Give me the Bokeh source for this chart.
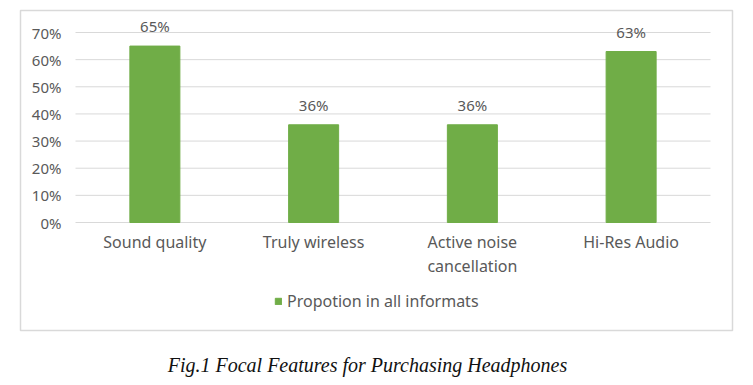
import numpy as np
from bokeh.plotting import figure
from bokeh.models import (ColumnDataSource, LabelSet, NumeralTickFormatter, FixedTicker,
                          Legend, LegendItem, Range1d, Div)
from bokeh.layouts import column
from bokeh.core.properties import value
from bokeh.embed import file_html
from bokeh.resources import INLINE

categories = ["Sound quality", "Truly wireless", "Active noise\ncancellation", "Hi-Res Audio"]
values = [0.65, 0.36, 0.36, 0.63]
value_labels = ["65%", "36%", "36%", "63%"]
series_name = "Propotion in all informats"
y_ticks = [0, 0.1, 0.2, 0.3, 0.4, 0.5, 0.6, 0.7]
caption = "Fig.1 Focal Features for Purchasing Headphones"

GREEN = "#70AD47"
GRID = "#d9d9d9"
TXT = "#595959"
FONT = "Noto Sans"

# layout geometry (pixels)
FL, FT, FR, FB = 20, 10, 732, 330       # bordered frame
PL, PT, PR, PB = 75, 32, 710, 222       # plotting area inside it
W, H = 745, 345

n = len(categories)
xs = np.arange(n) + 0.5
ppx = (PR - PL) / n
ppy = (PB - PT) / y_ticks[-1]

p = figure(width=W, height=H, output_backend="svg", toolbar_location=None,
           min_border_left=FL, min_border_right=W - FR, min_border_top=FT,
           min_border_bottom=H - FB)
p.x_range = Range1d(-(PL - FL) / ppx, n + (FR - PR) / ppx)
p.y_range = Range1d(-(FB - PB) / ppy, y_ticks[-1] + (PT - FT) / ppy)
p.outline_line_color = GRID
p.outline_line_width = 1.5
p.xgrid.grid_line_color = None
p.ygrid.grid_line_color = None

# gridlines over the plotting area only
p.segment(x0=0, x1=n, y0=y_ticks, y1=y_ticks, line_color=GRID, line_width=1)

src = ColumnDataSource(dict(x=xs, val=values, lab=value_labels))
r = p.vbar(x="x", top="val", width=0.315, source=src, fill_color=GREEN, line_color=GREEN)

p.add_layout(LabelSet(x="x", y="val", text="lab", source=src, y_offset=20,
                      text_align="center", text_baseline="middle", text_font_size="15px",
                      text_color=TXT, text_font=value(FONT)))

p.yaxis.fixed_location = 0
p.yaxis.ticker = FixedTicker(ticks=y_ticks)
p.yaxis.formatter = NumeralTickFormatter(format="0%")
p.yaxis.axis_line_color = None
p.yaxis.major_tick_line_color = None
p.yaxis.major_tick_out = 0
p.yaxis.minor_tick_line_color = None
p.yaxis.major_label_text_font_size = "15px"
p.yaxis.major_label_text_color = TXT
p.yaxis.major_label_text_font = FONT
p.yaxis.major_label_standoff = 14

p.xaxis.fixed_location = 0
p.xaxis.ticker = FixedTicker(ticks=list(xs))
p.xaxis.major_label_overrides = {float(x): c for x, c in zip(xs, categories)}
p.xaxis.axis_line_color = None
p.xaxis.major_tick_line_color = None
p.xaxis.major_tick_out = 0
p.xaxis.minor_tick_line_color = None
p.xaxis.major_label_text_font_size = "16px"
p.xaxis.major_label_text_color = TXT
p.xaxis.major_label_text_font = FONT
p.xaxis.major_label_text_line_height = 1.1
p.xaxis.major_label_standoff = 8

legend = Legend(items=[LegendItem(label=series_name, renderers=[r])],
                location=(254, 18), orientation="horizontal", margin=0, padding=0,
                label_text_font_size="16px", label_text_color=TXT, label_text_font=FONT,
                glyph_width=8, glyph_height=8, label_standoff=5,
                background_fill_alpha=0, border_line_color=None)
p.add_layout(legend, "center")

div = Div(text=caption, width=W, height=385 - H - 5,
          styles={"font-family": "Liberation Serif", "font-style": "italic",
                  "font-size": "20px", "color": "#111111", "text-align": "center",
                  "width": "%dpx" % (W - 20), "line-height": "30px"})

open("out.html", "w").write(file_html(column(p, div), INLINE))
